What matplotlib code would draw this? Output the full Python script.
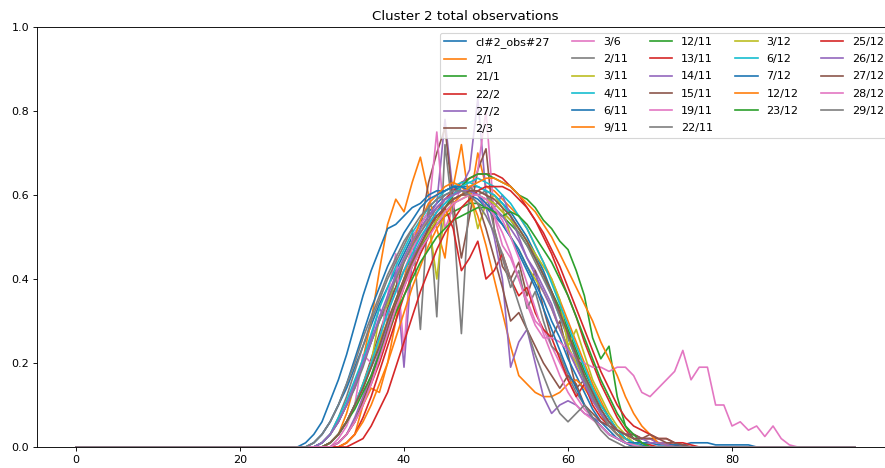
import numpy as np
import matplotlib.pyplot as plt

# number of samples per observation (x = 0..95)
n_points = 96

labels = ['cl#2_obs#27', '2/1', '21/1', '22/2', '27/2', '2/3', '3/6', '2/11', '3/11',
          '4/11', '6/11', '9/11', '12/11', '13/11', '14/11', '15/11', '19/11', '22/11',
          '3/12', '6/12', '7/12', '12/12', '23/12', '25/12', '26/12', '27/12', '28/12', '29/12']

# index of the first non-zero sample of each series
starts = [29, 31, 30, 32, 30, 31, 32, 30, 31, 30, 28, 33, 31, 33, 32, 32, 31, 30,
          31, 31, 29, 33, 31, 34, 30, 31, 32, 29]

# non-zero part of each series (everything else is 0)
s0 = [0.01, 0.03, 0.06, 0.10, 0.14, 0.19, 0.24, 0.29, 0.34, 0.38, 0.42, 0.46, 0.50, 0.53, 0.56, 0.58,
      0.60, 0.61, 0.62, 0.62, 0.62, 0.61, 0.60, 0.58, 0.56, 0.53, 0.50, 0.46, 0.42, 0.37, 0.32, 0.27,
      0.22, 0.17, 0.13, 0.09, 0.06, 0.04, 0.02, 0.01, 0.005]
s1 = [0.01, 0.03, 0.08, 0.15, 0.21, 0.30, 0.42, 0.53, 0.59, 0.56, 0.63, 0.69, 0.60, 0.52, 0.45, 0.62,
      0.72, 0.58, 0.70, 0.62, 0.61, 0.59, 0.57, 0.55, 0.52, 0.48, 0.44, 0.40, 0.35, 0.30, 0.25, 0.20,
      0.15, 0.11, 0.07, 0.04, 0.02, 0.01]
s2 = [0.01, 0.03, 0.06, 0.10, 0.15, 0.20, 0.25, 0.30, 0.34, 0.38, 0.42, 0.45, 0.48, 0.51, 0.53, 0.55,
      0.56, 0.57, 0.58, 0.58, 0.57, 0.56, 0.55, 0.53, 0.51, 0.48, 0.45, 0.41, 0.37, 0.33, 0.28, 0.23,
      0.18, 0.14, 0.10, 0.07, 0.04, 0.02, 0.01]
s3 = [0.01, 0.03, 0.06, 0.10, 0.15, 0.20, 0.26, 0.32, 0.38, 0.43, 0.48, 0.52, 0.56, 0.59, 0.61, 0.63,
      0.64, 0.65, 0.65, 0.65, 0.64, 0.62, 0.60, 0.57, 0.54, 0.50, 0.46, 0.41, 0.36, 0.31, 0.25, 0.20,
      0.15, 0.11, 0.07, 0.04, 0.02, 0.01, 0.005]
s4 = [0.01, 0.03, 0.06, 0.10, 0.14, 0.20, 0.26, 0.33, 0.30, 0.42, 0.19, 0.45, 0.52, 0.55, 0.58, 0.78,
      0.60, 0.62, 0.66, 0.83, 0.60, 0.57, 0.60, 0.55, 0.50, 0.45, 0.42, 0.38, 0.34, 0.28, 0.24, 0.19,
      0.15, 0.12, 0.08, 0.05, 0.03, 0.02, 0.01]
s5 = [0.01, 0.03, 0.06, 0.10, 0.15, 0.21, 0.27, 0.33, 0.38, 0.44, 0.48, 0.52, 0.63, 0.70, 0.76, 0.58,
      0.45, 0.55, 0.66, 0.71, 0.52, 0.43, 0.40, 0.44, 0.36, 0.42, 0.33, 0.26, 0.30, 0.22, 0.14, 0.16,
      0.12, 0.08, 0.05, 0.03, 0.02, 0.01]
s6 = [0.02, 0.05, 0.10, 0.22, 0.20, 0.24, 0.36, 0.46, 0.23, 0.50, 0.53, 0.56, 0.75, 0.52, 0.57, 0.62,
      0.60, 0.66, 0.80, 0.55, 0.48, 0.45, 0.40, 0.35, 0.30, 0.28, 0.24, 0.20, 0.16, 0.12, 0.09, 0.07,
      0.05, 0.03, 0.02, 0.01]
s7 = [0.01, 0.03, 0.07, 0.12, 0.18, 0.24, 0.30, 0.35, 0.40, 0.44, 0.48, 0.52, 0.28, 0.58, 0.31, 0.72,
      0.55, 0.27, 0.62, 0.60, 0.61, 0.52, 0.45, 0.38, 0.42, 0.33, 0.37, 0.30, 0.24, 0.22, 0.17, 0.13,
      0.10, 0.07, 0.05, 0.03, 0.02, 0.01]
s8 = [0.01, 0.03, 0.06, 0.10, 0.14, 0.20, 0.31, 0.34, 0.40, 0.45, 0.49, 0.52, 0.54, 0.40, 0.57, 0.59,
      0.60, 0.61, 0.52, 0.58, 0.60, 0.57, 0.50, 0.47, 0.43, 0.40, 0.37, 0.33, 0.28, 0.24, 0.20, 0.16,
      0.12, 0.08, 0.05, 0.03, 0.02, 0.01]
s9 = [0.01, 0.03, 0.07, 0.11, 0.16, 0.21, 0.27, 0.33, 0.38, 0.43, 0.47, 0.51, 0.54, 0.57, 0.59, 0.61,
      0.62, 0.63, 0.63, 0.62, 0.61, 0.60, 0.58, 0.55, 0.52, 0.49, 0.45, 0.41, 0.36, 0.31, 0.26, 0.21,
      0.16, 0.12, 0.08, 0.05, 0.03, 0.01, 0.005]
s10 = [0.01, 0.03, 0.06, 0.11, 0.16, 0.22, 0.29, 0.36, 0.42, 0.47, 0.52, 0.53, 0.55, 0.57, 0.58, 0.60,
       0.61, 0.61, 0.62, 0.61, 0.60, 0.59, 0.57, 0.55, 0.53, 0.50, 0.47, 0.43, 0.39, 0.35, 0.30, 0.26,
       0.21, 0.17, 0.13, 0.09, 0.06, 0.04, 0.02, 0.01]
s11 = [0.01, 0.03, 0.10, 0.14, 0.13, 0.20, 0.30, 0.40, 0.48, 0.54, 0.58, 0.60, 0.62, 0.63, 0.62, 0.60,
       0.55, 0.48, 0.40, 0.32, 0.24, 0.17, 0.15, 0.13, 0.12, 0.12, 0.13, 0.15, 0.16, 0.14, 0.11, 0.08,
       0.05, 0.03, 0.02, 0.01]
s12 = [0.01, 0.03, 0.06, 0.10, 0.14, 0.19, 0.24, 0.29, 0.34, 0.39, 0.43, 0.47, 0.51, 0.54, 0.57, 0.60,
       0.62, 0.64, 0.65, 0.65, 0.64, 0.63, 0.62, 0.60, 0.59, 0.57, 0.54, 0.52, 0.49, 0.47, 0.42, 0.36,
       0.26, 0.21, 0.24, 0.12, 0.05, 0.02, 0.01]
s13 = [0.01, 0.03, 0.07, 0.12, 0.18, 0.24, 0.30, 0.36, 0.41, 0.46, 0.50, 0.54, 0.57, 0.52, 0.42, 0.45,
       0.49, 0.40, 0.42, 0.46, 0.40, 0.36, 0.38, 0.32, 0.28, 0.26, 0.21, 0.16, 0.12, 0.15, 0.10, 0.07,
       0.05, 0.04, 0.03, 0.03, 0.02, 0.02, 0.01, 0.01, 0.005]
s14 = [0.01, 0.03, 0.07, 0.12, 0.17, 0.23, 0.29, 0.35, 0.40, 0.45, 0.49, 0.53, 0.56, 0.58, 0.60, 0.61,
       0.61, 0.60, 0.57, 0.50, 0.40, 0.19, 0.25, 0.28, 0.20, 0.12, 0.08, 0.10, 0.11, 0.10, 0.08, 0.07,
       0.06, 0.05, 0.04, 0.03, 0.03, 0.02, 0.02, 0.01, 0.01]
s15 = [0.01, 0.03, 0.06, 0.11, 0.16, 0.22, 0.28, 0.34, 0.39, 0.44, 0.48, 0.52, 0.55, 0.57, 0.59, 0.60,
       0.60, 0.58, 0.52, 0.45, 0.38, 0.30, 0.32, 0.28, 0.24, 0.20, 0.17, 0.14, 0.17, 0.15, 0.10, 0.08,
       0.06, 0.05, 0.04, 0.03, 0.03, 0.02, 0.02, 0.02, 0.01, 0.01, 0.005]
s16 = [0.01, 0.03, 0.06, 0.10, 0.15, 0.20, 0.26, 0.32, 0.37, 0.42, 0.47, 0.51, 0.54, 0.57, 0.59, 0.60,
       0.61, 0.61, 0.60, 0.58, 0.55, 0.51, 0.46, 0.40, 0.34, 0.29, 0.26, 0.26, 0.25, 0.23, 0.21, 0.20,
       0.19, 0.19, 0.18, 0.19, 0.19, 0.17, 0.13, 0.12, 0.14, 0.16, 0.18, 0.23, 0.16, 0.19, 0.19, 0.10,
       0.10, 0.05, 0.06, 0.04, 0.05, 0.025, 0.05, 0.02, 0.005]
s17 = [0.01, 0.03, 0.06, 0.10, 0.14, 0.19, 0.25, 0.30, 0.35, 0.40, 0.44, 0.48, 0.51, 0.54, 0.57, 0.59,
       0.60, 0.61, 0.61, 0.61, 0.60, 0.58, 0.56, 0.54, 0.51, 0.48, 0.44, 0.40, 0.36, 0.31, 0.26, 0.21,
       0.16, 0.12, 0.08, 0.05, 0.03, 0.01, 0.005]
s18 = [0.01, 0.03, 0.06, 0.10, 0.15, 0.20, 0.25, 0.30, 0.35, 0.40, 0.44, 0.48, 0.51, 0.54, 0.56, 0.58,
       0.59, 0.60, 0.60, 0.59, 0.58, 0.56, 0.54, 0.52, 0.49, 0.46, 0.43, 0.40, 0.35, 0.24, 0.28, 0.22,
       0.16, 0.12, 0.08, 0.05, 0.03, 0.01]
s19 = [0.01, 0.03, 0.06, 0.10, 0.15, 0.20, 0.26, 0.32, 0.37, 0.42, 0.46, 0.50, 0.53, 0.56, 0.58, 0.60,
       0.62, 0.63, 0.64, 0.63, 0.62, 0.60, 0.58, 0.55, 0.52, 0.48, 0.44, 0.39, 0.34, 0.29, 0.24, 0.19,
       0.14, 0.10, 0.07, 0.04, 0.02, 0.01]
s20 = [0.01, 0.03, 0.06, 0.10, 0.15, 0.21, 0.27, 0.33, 0.38, 0.43, 0.47, 0.51, 0.54, 0.57, 0.59, 0.60,
       0.61, 0.62, 0.62, 0.61, 0.60, 0.58, 0.56, 0.53, 0.50, 0.46, 0.42, 0.38, 0.33, 0.28, 0.23, 0.18,
       0.14, 0.10, 0.07, 0.05, 0.03, 0.02, 0.01, 0.01, 0.01, 0.01, 0.005, 0.005, 0.005, 0.005, 0.01, 0.01,
       0.01, 0.005, 0.005, 0.005, 0.005, 0.005]
s21 = [0.01, 0.03, 0.06, 0.10, 0.15, 0.20, 0.26, 0.32, 0.38, 0.43, 0.48, 0.52, 0.55, 0.58, 0.60, 0.62,
       0.63, 0.64, 0.64, 0.63, 0.62, 0.60, 0.58, 0.56, 0.53, 0.50, 0.46, 0.42, 0.38, 0.34, 0.30, 0.25,
       0.21, 0.17, 0.12, 0.08, 0.05, 0.03, 0.01, 0.005]
s22 = [0.01, 0.03, 0.06, 0.09, 0.13, 0.17, 0.22, 0.27, 0.32, 0.36, 0.40, 0.44, 0.47, 0.50, 0.52, 0.54,
       0.55, 0.56, 0.57, 0.57, 0.56, 0.55, 0.56, 0.55, 0.53, 0.50, 0.47, 0.44, 0.40, 0.36, 0.31, 0.26,
       0.21, 0.16, 0.12, 0.08, 0.05, 0.03, 0.01]
s23 = [0.01, 0.02, 0.05, 0.09, 0.13, 0.19, 0.25, 0.31, 0.37, 0.42, 0.47, 0.51, 0.54, 0.57, 0.59, 0.61,
       0.62, 0.62, 0.62, 0.61, 0.59, 0.57, 0.54, 0.51, 0.47, 0.43, 0.38, 0.33, 0.28, 0.23, 0.18, 0.14,
       0.10, 0.07, 0.05, 0.04, 0.03, 0.02, 0.02, 0.01, 0.01, 0.005]
s24 = [0.01, 0.03, 0.06, 0.10, 0.15, 0.20, 0.25, 0.31, 0.36, 0.41, 0.45, 0.49, 0.52, 0.55, 0.57, 0.59,
       0.60, 0.61, 0.61, 0.60, 0.59, 0.57, 0.55, 0.52, 0.49, 0.45, 0.41, 0.37, 0.33, 0.28, 0.23, 0.19,
       0.15, 0.11, 0.08, 0.06, 0.04, 0.03, 0.02, 0.02, 0.01, 0.01, 0.005]
s25 = [0.01, 0.03, 0.06, 0.10, 0.14, 0.19, 0.24, 0.30, 0.35, 0.40, 0.44, 0.48, 0.52, 0.55, 0.57, 0.59,
       0.60, 0.61, 0.61, 0.60, 0.59, 0.57, 0.55, 0.52, 0.49, 0.45, 0.41, 0.37, 0.32, 0.27, 0.22, 0.17,
       0.13, 0.09, 0.06, 0.04, 0.03, 0.02, 0.02, 0.03, 0.02, 0.02, 0.01, 0.005]
s26 = [0.01, 0.03, 0.06, 0.10, 0.15, 0.21, 0.27, 0.33, 0.38, 0.43, 0.47, 0.50, 0.53, 0.56, 0.58, 0.59,
       0.60, 0.60, 0.59, 0.57, 0.54, 0.50, 0.45, 0.39, 0.33, 0.27, 0.22, 0.17, 0.13, 0.10, 0.08, 0.065,
       0.05, 0.03, 0.02, 0.01, 0.005]
s27 = [0.01, 0.03, 0.06, 0.10, 0.15, 0.20, 0.26, 0.31, 0.36, 0.41, 0.45, 0.49, 0.52, 0.55, 0.57, 0.59,
       0.60, 0.61, 0.61, 0.60, 0.58, 0.55, 0.51, 0.46, 0.40, 0.34, 0.28, 0.22, 0.17, 0.12, 0.08, 0.06,
       0.08, 0.10, 0.07, 0.04, 0.02, 0.01]

segments = [s0, s1, s2, s3, s4, s5, s6, s7, s8, s9, s10, s11, s12, s13, s14, s15, s16, s17,
            s18, s19, s20, s21, s22, s23, s24, s25, s26, s27]

fig = plt.figure(figsize=(885 / 80, 468 / 80), dpi=80)
# the original picture is cropped on the right, so the axes run past the figure edge
ax = fig.add_axes([37 / 885, 21 / 468, 857 / 885, 420 / 468])

x = np.arange(n_points)
for lab, st, seg in zip(labels, starts, segments):
    y = np.zeros(n_points)
    y[st:st + len(seg)] = seg
    ax.plot(x, y, label=lab)

ax.set_ylim(0, 1)
ax.set_title('Cluster 2 total observations')
ax.legend(ncol=5, loc='upper right', labelspacing=0.65)

fig.savefig('out.png', dpi=80)
